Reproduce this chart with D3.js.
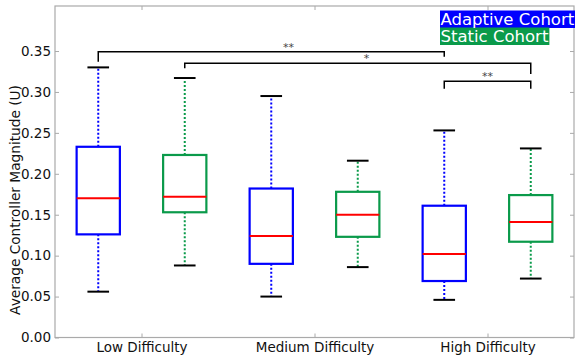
<!DOCTYPE html>
<html>
<head>
<meta charset="utf-8">
<script src="https://cdn.jsdelivr.net/npm/d3@7"></script>
<style>
  body { margin: 0; background: #fff; }
  text { font-family: "DejaVu Sans", sans-serif; }
</style>
</head>
<body>
<div id="myChart"></div>
<script>
// Box stats
var groups = ["Low Difficulty", "Medium Difficulty", "High Difficulty"];
var cohorts = ["Adaptive Cohort", "Static Cohort"];
var positions = [1, 2, 3, 4, 5, 6];
var whiskerLow  = [0.056, 0.088, 0.050, 0.086, 0.046, 0.072];
var q1          = [0.126, 0.153, 0.090, 0.123, 0.069, 0.117];
var medians     = [0.170, 0.172, 0.124, 0.150, 0.102, 0.141];
var q3          = [0.233, 0.223, 0.182, 0.178, 0.161, 0.174];
var whiskerHigh = [0.330, 0.317, 0.295, 0.216, 0.253, 0.231];
var yTicks = [0.00, 0.05, 0.10, 0.15, 0.20, 0.25, 0.30, 0.35];

// significance brackets: from, to, bar height, leg ends, label, label x
var sigFrom   = [1, 2, 5];
var sigTo     = [5, 6, 6];
var sigTop    = [0.349, 0.335, 0.313];
var sigLegA   = [0.337, 0.329, 0.304];
var sigLegB   = [0.343, 0.322, 0.304];
var sigLabel  = ["**", "*", "**"];
var sigLabelX = [3.2, 4.1, 5.5];

var colors = ["#0000ff", "#0a9a4a"];

var svgWidth = 575, svgHeight = 356;
var svg = d3.select("#myChart").append("svg")
  .attr("width", svgWidth)
  .attr("height", svgHeight);

var x = d3.scaleLinear().domain([0.5, 6.5]).range([55, 574]);
var y = d3.scaleLinear().domain([0, 0.405]).range([337.5, 6]);

// frame
svg.append("rect")
  .attr("x", x(0.5)).attr("y", y(0.405))
  .attr("width", x(6.5) - x(0.5)).attr("height", y(0) - y(0.405))
  .attr("fill", "none").attr("stroke", "#aaaaaa").attr("stroke-width", 1.2);

// y axis, ticks inward
var yAxis = svg.append("g")
  .attr("transform", "translate(" + x(0.5) + ",0)")
  .call(d3.axisLeft(y).tickValues(yTicks).tickFormat(d3.format(".2f")).tickSize(-4).tickPadding(4));
yAxis.select(".domain").remove();
yAxis.selectAll("line").attr("stroke", "#aaaaaa");
yAxis.selectAll("text").attr("font-size", 13.5).attr("fill", "#111");

var yRight = svg.append("g")
  .attr("transform", "translate(" + x(6.5) + ",0)")
  .call(d3.axisRight(y).tickValues(yTicks).tickFormat("").tickSize(-4));
yRight.select(".domain").remove();
yRight.selectAll("line").attr("stroke", "#aaaaaa");

// x axis
var xAxis = svg.append("g")
  .attr("transform", "translate(0," + y(0) + ")")
  .call(d3.axisBottom(x).tickValues([1.5, 3.5, 5.5])
    .tickFormat(function(d, i) { return groups[i]; }).tickSize(-4).tickPadding(5));
xAxis.select(".domain").remove();
xAxis.selectAll("line").attr("stroke", "#aaaaaa");
xAxis.selectAll("text").attr("font-size", 13.5).attr("fill", "#111");

var xTop = svg.append("g")
  .attr("transform", "translate(0," + y(0.405) + ")")
  .call(d3.axisTop(x).tickValues([1.5, 3.5, 5.5]).tickFormat("").tickSize(-4));
xTop.select(".domain").remove();
xTop.selectAll("line").attr("stroke", "#aaaaaa");

// y title
svg.append("text")
  .attr("transform", "translate(19.5,200) rotate(-90)")
  .attr("text-anchor", "middle")
  .attr("font-size", 13.7)
  .attr("fill", "#111")
  .text("Average Controller Magnitude (U)");

// boxes
var boxW = 0.5, capW = 0.25;
var boxes = svg.append("g").selectAll("g")
  .data(positions)
  .enter().append("g");

boxes.each(function(p, i) {
  var g = d3.select(this);
  var c = colors[i % 2];
  // whiskers
  g.append("line")
    .attr("x1", x(p)).attr("x2", x(p))
    .attr("y1", y(q3[i])).attr("y2", y(whiskerHigh[i]))
    .attr("stroke", c).attr("stroke-width", 2).attr("stroke-dasharray", "2,2");
  g.append("line")
    .attr("x1", x(p)).attr("x2", x(p))
    .attr("y1", y(q1[i])).attr("y2", y(whiskerLow[i]))
    .attr("stroke", c).attr("stroke-width", 2).attr("stroke-dasharray", "2,2");
  // caps
  [whiskerLow[i], whiskerHigh[i]].forEach(function(v) {
    g.append("line")
      .attr("x1", x(p - capW / 2)).attr("x2", x(p + capW / 2))
      .attr("y1", y(v)).attr("y2", y(v))
      .attr("stroke", "#000").attr("stroke-width", 2);
  });
  // box
  g.append("rect")
    .attr("x", x(p - boxW / 2)).attr("y", y(q3[i]))
    .attr("width", x(p + boxW / 2) - x(p - boxW / 2))
    .attr("height", y(q1[i]) - y(q3[i]))
    .attr("fill", "none").attr("stroke", c).attr("stroke-width", 2.2);
  // median
  g.append("line")
    .attr("x1", x(p - boxW / 2)).attr("x2", x(p + boxW / 2))
    .attr("y1", y(medians[i])).attr("y2", y(medians[i]))
    .attr("stroke", "#ff0000").attr("stroke-width", 2);
});

// significance brackets
var sig = svg.append("g");
sigFrom.forEach(function(a, i) {
  var b = sigTo[i];
  sig.append("path")
    .attr("d", "M" + x(a) + "," + y(sigLegA[i]) + "V" + y(sigTop[i]) +
      "H" + x(b) + "V" + y(sigLegB[i]))
    .attr("fill", "none").attr("stroke", "#000").attr("stroke-width", 1.5);
  sig.append("text")
    .attr("x", x(sigLabelX[i])).attr("y", y(sigTop[i]) - 1)
    .attr("text-anchor", "middle")
    .attr("font-size", 11)
    .attr("fill", "#444")
    .text(sigLabel[i]);
});

// legend
var leg = svg.append("g");
cohorts.forEach(function(name, i) {
  var t = leg.append("text")
    .attr("x", 440.5).attr("y", 24.5 + i * 17.5)
    .attr("font-size", 16.5)
    .attr("fill", "#fff")
    .text(name);
  var bb = t.node().getBBox();
  leg.insert("rect", "text")
    .attr("x", 440).attr("y", 10.5 + i * 17)
    .attr("width", bb.width + 1).attr("height", 17.5)
    .attr("fill", colors[i]);
});
</script>
</body>
</html>
